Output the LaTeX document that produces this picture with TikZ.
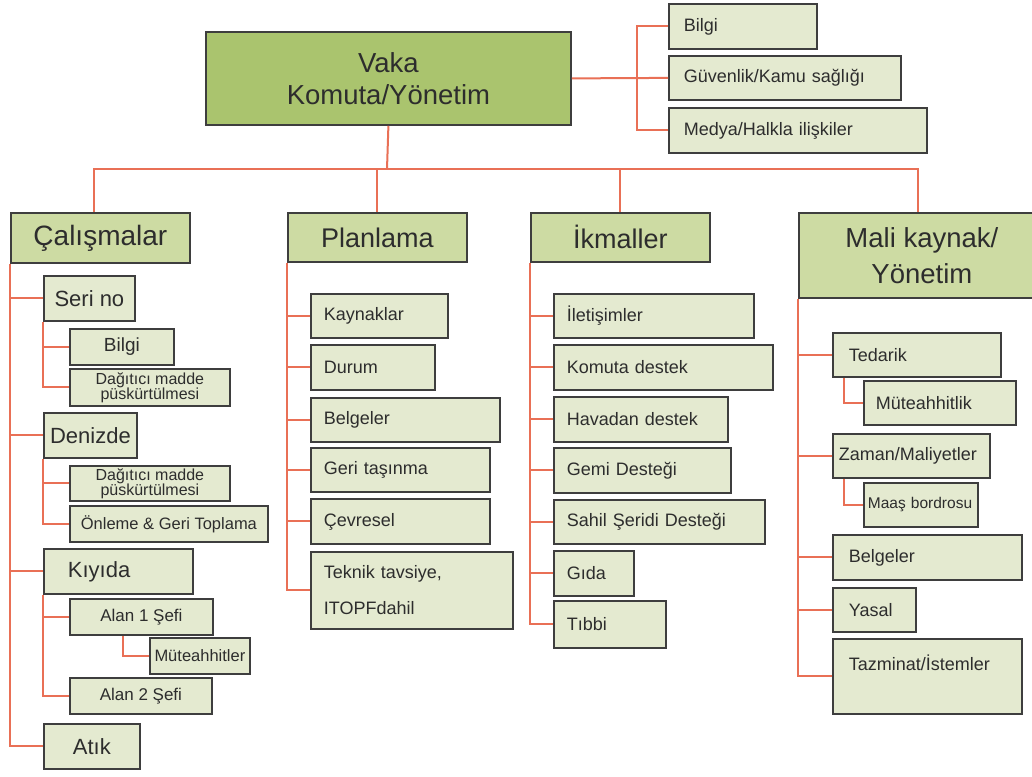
\documentclass[tikz,border=0pt]{standalone}
\usepackage{fontspec}
\setmainfont{Liberation Sans}
\definecolor{topgreen}{RGB}{170,196,110}
\definecolor{headgreen}{RGB}{205,219,163}
\definecolor{leafgreen}{RGB}{228,234,208}
\definecolor{linkred}{RGB}{233,112,86}
\definecolor{edgegray}{RGB}{62,62,62}
\definecolor{inkgray}{RGB}{45,45,45}

\begin{document}
\begin{tikzpicture}[x=1pt, y=-1pt,
    box/.style={draw=edgegray, line width=1.8pt, anchor=north west, inner sep=0pt, text=inkgray},
    topbox/.style={box, fill=topgreen},
    headbox/.style={box, fill=headgreen},
    leafbox/.style={box, fill=leafgreen, font=\fontsize{18}{21}\selectfont},
    link/.style={draw=linkred, line width=2pt},
    sz/.style 2 args={minimum width=#1, minimum height=#2},
    lft/.style 2 args={align=left, text width=#1, inner xsep=#2}]
                \fill[white] (0,0) rectangle (1032,776);
                \useasboundingbox (0,0) rectangle (1032,776);

                % Command
                \node[topbox, sz={365pt}{93pt}, align=center, font=\fontsize{27.5}{32}\selectfont] (vaka) at (205,31) {Vaka\\Komuta/Yönetim};
                \node[leafbox, lft={118pt}{15pt}, minimum height=45pt] (bilgi) at (668,3) {Bilgi};
                \node[leafbox, lft={202pt}{15pt}, minimum height=44pt] (guv) at (668,55) {Güvenlik/Kamu sağlığı};
                \node[leafbox, lft={228pt}{15pt}, minimum height=45pt] (medya) at (668,107) {Medya/Halkla ilişkiler};
                \draw[link] (vaka.east) -- (guv.west);
                \draw[link] (bilgi.west) -- ++(-31,0) |- (medya.west);

                % Sections
                \node[headbox, sz={179pt}{50pt}, font=\fontsize{28}{32}\selectfont] (cal) at (10,212) {Çalışmalar};
                \node[headbox, sz={179pt}{49pt}, font=\fontsize{27}{32}\selectfont] (plan) at (287,212) {Planlama};
                \node[headbox, sz={179pt}{49pt}, font=\fontsize{27}{32}\selectfont] (ikm) at (530,212) {İkmaller};
                \node[headbox, sz={246pt}{85pt}, align=center, font=\fontsize{27.5}{36}\selectfont] (mali) at (798,212) {Mali kaynak/\\Yönetim};
                \coordinate (bus) at (387,169);
                \coordinate (caltop) at ([xshift=-6pt]cal.north);
                \coordinate (malitop) at ([xshift=-4pt]mali.north);
                \draw[link] (vaka.south) -- (bus);
                \draw[link] (caltop) |- (malitop |- bus) -- (malitop);
                \draw[link] (plan.north) -- (plan.north |- bus);
                \draw[link] (ikm.north) -- (ikm.north |- bus);

                % Column 1
                \node[leafbox, sz={91pt}{45pt}, font=\fontsize{22}{24}\selectfont] (seri) at (43,275) {Seri no};
                \node[leafbox, sz={104pt}{36pt}, font=\fontsize{19}{22}\selectfont] (bilgiA) at (69,328) {Bilgi};
                \node[leafbox, sz={160pt}{37pt}, align=center, font=\fontsize{16}{15}\selectfont] (dagA) at (69,368) {Dağıtıcı madde\\püskürtülmesi};
                \node[leafbox, sz={93pt}{45pt}, font=\fontsize{22}{24}\selectfont] (deniz) at (43,412) {Denizde};
                \node[leafbox, sz={160pt}{35pt}, align=center, font=\fontsize{16}{15}\selectfont] (dagB) at (69,465) {Dağıtıcı madde\\püskürtülmesi};
                \node[leafbox, sz={198pt}{36pt}, font=\fontsize{16.5}{19}\selectfont] (onleme) at (69,505) {Önleme \& Geri Toplama};
                \node[leafbox, lft={101pt}{24pt}, minimum height=45pt, font=\fontsize{22}{24}\selectfont] (kiyi) at (43,548) {Kıyıda};
                \node[leafbox, sz={143pt}{36pt}, font=\fontsize{17}{20}\selectfont] (alan1) at (69,598) {Alan 1 Şefi};
                \node[leafbox, sz={100pt}{36pt}, font=\fontsize{16.5}{19}\selectfont] (mute) at (149,637) {Müteahhitler};
                \node[leafbox, sz={142pt}{36pt}, font=\fontsize{17}{20}\selectfont] (alan2) at (69,677) {Alan 2 Şefi};
                \node[leafbox, sz={96pt}{45pt}, font=\fontsize{22}{24}\selectfont] (atik) at (43,723) {Atık};
                \foreach \n in {seri,deniz,kiyi,atik}
                    \draw[link] (cal.south west) |- (\n.west);
                \foreach \n in {bilgiA,dagA}
                    \draw[link] (seri.south west) |- (\n.west);
                \foreach \n in {dagB,onleme}
                    \draw[link] (deniz.south west) |- (\n.west);
                \foreach \n in {alan1,alan2}
                    \draw[link] (kiyi.south west) |- (\n.west);
                \draw[link] ([xshift=54pt]alan1.south west) |- (mute.west);

                % Column 2
                \node[leafbox, lft={111pt}{13pt}, minimum height=44pt] (kayn) at (310,293) {Kaynaklar};
                \node[leafbox, lft={98pt}{13pt}, minimum height=45pt] (durum) at (310,344) {Durum};
                \node[leafbox, lft={163pt}{13pt}, minimum height=44pt] (belgeA) at (310,397) {Belgeler};
                \node[leafbox, lft={153pt}{13pt}, minimum height=44pt] (geri) at (310,447) {Geri taşınma};
                \node[leafbox, lft={153pt}{13pt}, minimum height=45pt] (cevre) at (310,498) {Çevresel};
                \node[leafbox, lft={176pt}{13pt}, minimum height=77pt, font=\fontsize{18}{36}\selectfont] (teknik) at (310,551) {Teknik tavsiye,\\ITOPFdahil};
                \foreach \n in {kayn,durum,belgeA,geri,cevre,teknik}
                    \draw[link] (plan.south west) |- (\n.west);

                % Column 3
                \node[leafbox, lft={174pt}{13pt}, minimum height=44pt] (ilet) at (553,293) {İletişimler};
                \node[leafbox, lft={193pt}{13pt}, minimum height=45pt] (komd) at (553,344) {Komuta destek};
                \node[leafbox, lft={148pt}{13pt}, minimum height=45pt] (hava) at (553,396) {Havadan destek};
                \node[leafbox, lft={151pt}{13pt}, minimum height=45pt] (gemi) at (553,447) {Gemi Desteği};
                \node[leafbox, lft={185pt}{13pt}, minimum height=44pt] (sahil) at (553,499) {Sahil Şeridi Desteği};
                \node[leafbox, lft={54pt}{13pt}, minimum height=45pt] (gida) at (553,550) {Gıda};
                \node[leafbox, lft={86pt}{13pt}, minimum height=47pt] (tibbi) at (553,600) {Tıbbi};
                \foreach \n in {ilet,komd,hava,gemi,sahil,gida,tibbi}
                    \draw[link] (ikm.south west) |- (\n.west);

                % Column 4
                \node[leafbox, lft={136pt}{16pt}, minimum height=44pt] (ted) at (832,332) {Tedarik};
                \node[leafbox, lft={128pt}{12pt}, minimum height=44pt] (mutl) at (863,380) {Müteahhitlik};
                \node[leafbox, lft={145pt}{6pt}, minimum height=44pt] (zaman) at (832,433) {Zaman/Maliyetler};
                \node[leafbox, lft={106pt}{4pt}, minimum height=44pt, font=\fontsize{15.5}{18}\selectfont] (maas) at (863,482) {Maaş bordrosu};
                \node[leafbox, lft={157pt}{16pt}, minimum height=45pt] (belgeB) at (832,534) {Belgeler};
                \node[leafbox, lft={51pt}{16pt}, minimum height=44pt] (yasal) at (832,587) {Yasal};
                \node[leafbox, lft={157pt}{16pt}, minimum height=75pt, font=\fontsize{18}{27}\selectfont] (tazm) at (832,638) {Tazminat/İstemler\\\mbox{}};
                \foreach \n in {ted,zaman,belgeB,yasal,tazm}
                    \draw[link] (mali.south west) |- (\n.west);
                \draw[link] ([xshift=12pt]ted.south west) |- (mutl.west);
                \draw[link] ([xshift=12pt]zaman.south west) |- (maas.west);
            \end{tikzpicture}
\end{document}
